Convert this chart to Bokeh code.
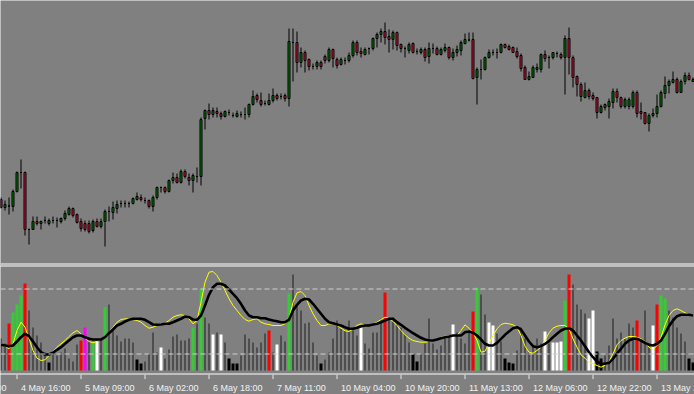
from bokeh.plotting import figure
from bokeh.layouts import column
from bokeh.models import Range1d, ColumnDataSource, Span
from bokeh.core.properties import value
from bokeh.embed import file_html
from bokeh.resources import INLINE

# ---------------- price candles (upper pane) ----------------
open_ = [65, 57, 58.5, 58, 73, 92, 92, 35, 35, 43,
         41, 44, 41, 44, 44, 43, 46, 50, 56, 50,
         43, 41, 41, 34, 43, 38, 43, 53, 52, 56,
         61, 61, 61, 61, 65, 67, 64, 64, 58, 67,
         77, 77, 73, 84, 87, 82, 93, 87, 84, 88,
         88, 146, 154, 150, 153, 151, 148, 152, 149, 148,
         150, 150, 150, 160, 169, 164, 161, 160, 164, 169,
         168, 169, 166, 222, 222, 202, 212, 205, 198, 198,
         202, 208, 204, 215, 205, 200, 204, 204, 209, 222,
         213, 210, 216, 216, 226, 230, 233, 228, 225, 232,
         220, 216, 214, 221, 213, 212, 215, 208, 216, 216,
         210, 214, 217, 207, 212, 214, 221, 224.5, 225, 187,
         195, 195, 207, 212, 212, 212, 220, 218, 217, 213,
         209, 197, 185, 187, 195, 195, 210, 207, 207, 211,
         210, 207, 226, 207, 188, 180, 167, 174, 169, 167,
         152, 157, 158, 162, 173, 167, 158, 158, 158, 172,
         153, 152, 141, 149, 151, 158, 171, 179, 182, 185,
         172, 183, 189, 183]
close = [57, 60, 58.5, 73, 92, 92, 35, 35, 43, 41,
         43, 44, 44, 44, 44, 46, 51, 56, 49, 42,
         36, 35, 33, 43, 38, 43, 53, 53, 57, 60,
         61, 61, 61, 66, 68, 65, 64, 58, 67, 77,
         77, 73, 84, 87, 82, 93, 88, 84, 89, 88,
         145, 154, 150, 154, 151, 148, 153, 152, 149, 151,
         150, 150, 160, 168, 165, 160, 161, 164, 169, 166,
         168, 166, 223, 222, 202, 212, 204, 198, 198, 202,
         198, 204, 215, 206, 199, 205, 204, 209, 222, 212,
         211, 215, 216, 226, 230, 233, 227, 225, 232, 219,
         216, 216, 220, 212, 213, 215, 207, 216, 216, 210,
         215, 217, 207, 212, 215, 222, 225, 224.5, 186, 195,
         195, 207, 212, 212, 212, 220, 217, 215, 212, 208,
         196, 185, 188, 197, 197, 210, 206, 207, 212, 211,
         207, 226, 207, 187, 180, 168, 174, 168, 166, 152,
         158, 160, 163, 173, 167, 158, 165, 165, 172, 151,
         151, 141, 149, 151, 158, 172, 179, 183, 185, 172,
         183, 189, 185, 185]
high = [67, 64, 67, 75, 93, 105, 93, 36, 48, 48,
        44, 48, 46, 48, 47, 47, 54, 58, 57, 51,
        46, 44, 44, 45, 46, 46, 55, 58, 63, 64,
        64, 64, 63, 67, 72, 70, 67, 65, 69, 78,
        78, 78, 85, 92, 91, 95, 95, 91, 91, 97,
        147, 155, 161, 157, 157, 153, 154, 155, 152, 154,
        153, 157, 161, 174, 171, 172, 164, 171, 176, 171,
        171, 171, 236, 236, 233, 217, 214, 206, 201, 204,
        204, 210, 217, 216, 207, 207, 207, 212, 224, 224,
        217, 217, 217, 227, 232, 236, 242, 235, 234, 233,
        221, 218, 222, 222, 216, 217, 217, 222, 221, 218,
        217, 221, 218, 216, 219, 224, 231, 232, 232, 197,
        205, 208, 215, 215, 216, 221, 221, 220, 218, 217,
        211, 199, 193, 199, 201, 211, 214, 209, 212, 213,
        212, 229, 237, 209, 189, 182, 182, 176, 172, 167,
        160, 161, 166, 176, 176, 168, 167, 167, 174, 174,
        162, 152, 151, 156, 170, 174, 188, 185, 193, 187,
        185, 192, 192, 187]
low = [56, 54, 50, 53, 72, 76, 29, 20, 35, 39,
       35, 41, 39, 41, 37, 41, 44, 49, 47, 41,
       33, 33, 31, 32, 37, 36, 18, 43, 45, 51,
       57, 57, 57, 60, 64, 63, 61, 56, 53, 65,
       72, 71, 72, 81, 81, 81, 86, 79, 72, 82,
       79, 135, 145, 147, 147, 145, 147, 149, 147, 147,
       147, 145, 147, 159, 162, 158, 159, 159, 162, 164,
       165, 163, 158, 183, 192, 197, 192, 194, 195, 195,
       195, 201, 202, 197, 196, 199, 200, 202, 207, 209,
       207, 209, 210, 214, 217, 222, 220, 212, 215, 214,
       212, 207, 211, 211, 210, 210, 203, 201, 211, 209,
       209, 212, 205, 204, 208, 209, 220, 223, 185, 160,
       185, 194, 206, 209, 206, 211, 216, 214, 212, 206,
       193, 185, 184, 187, 192, 192, 203, 196, 205, 207,
       205, 170, 190, 177, 168, 163, 166, 165, 164, 146,
       151, 154, 146, 156, 162, 156, 156, 155, 156, 147,
       145, 140, 133, 147, 147, 157, 166, 171, 181, 171,
       172, 180, 184, 183]

# ---------------- indicator (lower pane) ----------------
hist = [32, 27, 47, 58, 66, 75, 87, 60, 43, 35,
        28, 18, 8, 18, 15, 18, 22, 12, 9, 26,
        30, 43, 33, 28, 29, 32, 63, 66, 43, 35,
        29, 32, 32, 28, 11, 7, 9, 17, 38, 18,
        23, 12, 21, 34, 36, 30, 30, 32, 43, 47,
        82, 53, 47, 36, 38, 36, 28, 12, 7, 7,
        15, 36, 32, 28, 23, 28, 37, 40, 18, 26,
        35, 29, 77, 96, 65, 60, 47, 48, 28, 15,
        7, 11, 18, 32, 50, 42, 40, 50, 40, 35,
        43, 27, 22, 38, 38, 52, 78, 52, 53, 47,
        43, 36, 28, 16, 9, 17, 27, 52, 27, 21,
        25, 32, 35, 46, 38, 32, 27, 38, 59, 83,
        76, 56, 48, 45, 37, 29, 12, 8, 7, 20,
        43, 32, 18, 25, 32, 27, 39, 27, 28, 28,
        29, 70, 96, 86, 66, 61, 57, 52, 60, 19,
        12, 15, 25, 52, 32, 38, 32, 47, 43, 50,
        31, 60, 27, 45, 66, 75, 72, 60, 53, 43,
        37, 29, 12, 8]
hist_state = ("ggRGGGRggg" "ggKggggggg" "RMgGWgGggg" "ggggKKgggg"
              "WgggggggGg" "GggWgWgKKK" "gggggggRgW" "ggGggggggg"
              "Kggggggggg" "WgggggRggg" "gggKKggggg" "gggWggggRG"
              "ggWWggKKKg" "ggggggWgWW" "WGRggggWWK" "KggggggggR"
              "gggWRGGggg" "ggKK")
slow_line = [25.7, 25, 24.3, 25, 29, 33.3, 36.7, 34.3, 29, 23.3,
             18.3, 16, 16, 17.7, 20.7, 23.3, 26.7, 30, 33.3, 35,
             35, 33.3, 31.7, 31, 31, 31, 33.3, 37.3, 41, 45,
             46.7, 49, 50.7, 51.7, 51.7, 51.7, 50.7, 48.3, 46, 45.7,
             46, 46.7, 46.7, 48.3, 50, 51.7, 54, 53.3, 51, 50.7,
             55, 65, 75.7, 83.3, 86.7, 86.7, 85, 81, 76.7, 72.3,
             66.7, 60, 55, 53.3, 53.3, 52.3, 52.3, 51, 50, 49.3,
             48.3, 48.3, 50.7, 60, 65.7, 70, 71.7, 71, 66.7, 61.7,
             56.7, 51.7, 48.3, 47.3, 46, 45, 43.3, 41.7, 41.7, 42.7,
             44.3, 45, 45, 46, 46.7, 48.3, 50, 51.7, 51.7, 48.3,
             45.7, 42.7, 40, 37.3, 35, 32.7, 31, 30, 30, 31,
             32.3, 33.3, 34, 35, 35, 35, 38.3, 39, 37.7, 35,
             31, 26.7, 25, 25, 27.7, 31.7, 35.7, 39, 42.3, 43.3,
             41, 35, 29, 24.3, 23.3, 24.3, 26.7, 29.3, 33.3, 36.7,
             40, 41.7, 42.3, 40, 35, 30, 24.3, 18.3, 13.3, 9,
             6.7, 6.7, 7.7, 11.7, 16.7, 21.7, 26.7, 30, 31.7, 31.7,
             30, 27.7, 25.7, 25, 26.7, 30, 36.7, 44.3, 50, 54.3,
             55.7, 55.7, 55.7, 55]
fast_line = [26.7, 24.3, 21.7, 26.7, 40, 48.3, 43.3, 31.7, 20, 12.3,
             10, 10.7, 15, 19, 23.3, 26.7, 30, 34, 37.7, 40,
             36.7, 32.3, 29, 27.7, 29, 31.7, 34.3, 38.3, 43.3, 48.3,
             51, 51.7, 51.7, 51, 50, 48.3, 45, 42.3, 43.3, 45,
             46.7, 47.3, 50, 53.3, 55, 55.7, 55, 51.7, 46.7, 50,
             68.3, 88.3, 98.3, 99, 95, 88.3, 80, 71.7, 65, 60,
             55, 51, 49.3, 51, 51.7, 48.3, 46.7, 46, 45, 45,
             45, 46.7, 51.7, 68.3, 77.7, 79, 75, 65, 56.7, 50,
             45, 45, 46.7, 46.7, 45, 42.3, 39.7, 39, 41.7, 45,
             46.7, 45, 45, 46.7, 48.3, 51, 53.3, 52.3, 49, 45,
             40, 35.7, 32.3, 30, 29, 28.3, 28.3, 29, 30, 30.7,
             33.3, 34.3, 35, 35, 35, 40, 45.7, 42.3, 37.7, 30,
             18.3, 19.3, 26.7, 35, 41.7, 46, 47.3, 46.7, 45.7, 43.3,
             35, 24.3, 18.3, 17.3, 20, 23.3, 30, 37.7, 42.3, 44.3,
             45, 45, 41.7, 31.7, 23.3, 15.7, 12.3, 8.3, 6.7, 5,
             3.3, 5, 9, 16.7, 25.7, 30, 32.3, 34, 34, 33.3,
             31.7, 29, 23.3, 20.7, 25, 33.3, 45.7, 55, 60, 61.7,
             60, 57.7, 56, 55.7]
levels = [81.5, 16.5]

# ---------------- time axis ----------------
tick_bars = [-12, 4, 20, 36, 52, 68, 84, 100, 116, 132, 148, 164]
tick_labels = ["3 May 23:00", "4 May 16:00", "5 May 09:00", "6 May 02:00",
               "6 May 18:00", "7 May 11:00", "10 May 04:00", "10 May 20:00",
               "11 May 13:00", "12 May 06:00", "12 May 22:00", "13 May 15:00"]

BG = "#808080"
W = 694
n = len(close)
idx = list(range(n))

x_range = Range1d(-0.125, -0.125 + W / 4.0)


def bare(height, y_range, border_color, **kw):
    f = figure(width=W, height=height, x_range=x_range, y_range=y_range,
               output_backend="svg", toolbar_location=None,
               x_axis_location=None, y_axis_location=None,
               min_border=0, border_fill_color=border_color,
               background_fill_color=BG, outline_line_color=None, **kw)
    f.grid.visible = False
    return f


# ---- upper pane (frame also holds the double separator rule) ----
up_col, dn_col = "#008000", "#DC143C"
csrc = ColumnDataSource(dict(
    x=idx, o=open_, c=close, h=high, l=low,
    top=[max(a, b) for a, b in zip(open_, close)],
    bot=[min(a, b) for a, b in zip(open_, close)],
    col=[up_col if c >= o else dn_col for o, c in zip(open_, close)],
))

p1 = bare(266, Range1d(-2, 264), BG)
# two 1-px white rules with a 1-px gray gap at the bottom of the pane
x0, x1 = x_range.start, x_range.end
p1.quad(left=[x0, x0], right=[x1, x1], bottom=[0, -2], top=[1, -1],
        fill_color="white", line_color=None)
p1.segment(x0="x", y0="l", x1="x", y1="h", source=csrc, line_color="black", line_width=1)
p1.vbar(x="x", width=0.5, top="top", bottom="bot", source=csrc,
        fill_color="col", line_color="black", line_width=1)

# ---- lower pane ----
pal = {"g": "#4E4E4E", "G": "#32CD32", "R": "#FF0000", "W": "#FFFFFF",
       "K": "#000000", "M": "#FF00FF"}
hsrc_thin = ColumnDataSource(dict(
    x=[i for i in idx if hist_state[i] == "g"],
    h=[hist[i] for i in idx if hist_state[i] == "g"]))
hsrc_wide = ColumnDataSource(dict(
    x=[i for i in idx if hist_state[i] != "g"],
    h=[hist[i] for i in idx if hist_state[i] != "g"],
    col=[pal[hist_state[i]] for i in idx if hist_state[i] != "g"]))

p2 = bare(108, Range1d(-3, 104), "white", min_border_bottom=1)
p2.vbar(x="x", width=0.5, top="h", bottom=0, source=hsrc_thin,
        fill_color=pal["g"], line_color=None)
p2.vbar(x="x", width=0.75, top="h", bottom=0, source=hsrc_wide,
        fill_color="col", line_color=None)
for lv in levels:
    p2.add_layout(Span(location=lv, dimension="width", line_color="#D0D0D0",
                       line_width=1, line_dash="5 3"))
p2.line(idx, fast_line, line_color="#FFFF00", line_width=1)
p2.line(idx, slow_line, line_color="black", line_width=2.6)

# ---- time scale strip ----
p3 = bare(20, Range1d(0, 20), BG)
tsrc = ColumnDataSource(dict(x=tick_bars, t=tick_labels))
p3.segment(x0="x", y0=20, x1="x", y1=15.5, source=tsrc, line_color="#E8E8E8", line_width=1)
p3.text(x="x", y=7, text="t", source=tsrc, x_offset=4,
        text_align="left", text_baseline="alphabetic",
        text_font=value("Liberation Sans"), text_font_size="9px",
        text_color="#F2F2F2")

layout = column(p1, p2, p3, spacing=0)
open("out.html", "w").write(file_html(layout, INLINE))
